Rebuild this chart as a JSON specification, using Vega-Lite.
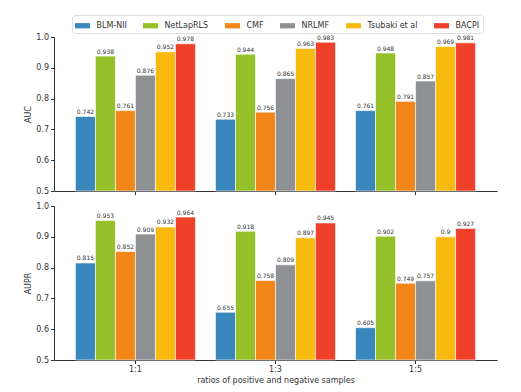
{
  "$schema": "https://vega.github.io/schema/vega-lite/v6.json",
  "padding": {"left": 24, "top": 14, "right": 5, "bottom": 5},
  "spacing": 7,
  "config": {
    "view": {"stroke": null},
    "font": "DejaVu Sans",
    "axis": {
      "domainColor": "#333333",
      "tickColor": "#333333",
      "labelColor": "#333333",
      "titleColor": "#333333",
      "labelFontSize": 8,
      "titleFontSize": 8,
      "titleFontWeight": "normal",
      "grid": false,
      "tickSize": 3.5,
      "labelPadding": 2,
      "titlePadding": 4
    },
    "legend": {
      "labelFontSize": 8,
      "labelColor": "#333333"
    }
  },
  "data": {
    "values": [
      {"metric": "AUC", "ratio": "1:1", "method": "BLM-NII", "value": 0.742},
      {"metric": "AUC", "ratio": "1:1", "method": "NetLapRLS", "value": 0.938},
      {"metric": "AUC", "ratio": "1:1", "method": "CMF", "value": 0.761},
      {"metric": "AUC", "ratio": "1:1", "method": "NRLMF", "value": 0.876},
      {"metric": "AUC", "ratio": "1:1", "method": "Tsubaki et al", "value": 0.952},
      {"metric": "AUC", "ratio": "1:1", "method": "BACPI", "value": 0.978},
      {"metric": "AUC", "ratio": "1:3", "method": "BLM-NII", "value": 0.733},
      {"metric": "AUC", "ratio": "1:3", "method": "NetLapRLS", "value": 0.944},
      {"metric": "AUC", "ratio": "1:3", "method": "CMF", "value": 0.756},
      {"metric": "AUC", "ratio": "1:3", "method": "NRLMF", "value": 0.865},
      {"metric": "AUC", "ratio": "1:3", "method": "Tsubaki et al", "value": 0.963},
      {"metric": "AUC", "ratio": "1:3", "method": "BACPI", "value": 0.983},
      {"metric": "AUC", "ratio": "1:5", "method": "BLM-NII", "value": 0.761},
      {"metric": "AUC", "ratio": "1:5", "method": "NetLapRLS", "value": 0.948},
      {"metric": "AUC", "ratio": "1:5", "method": "CMF", "value": 0.791},
      {"metric": "AUC", "ratio": "1:5", "method": "NRLMF", "value": 0.857},
      {"metric": "AUC", "ratio": "1:5", "method": "Tsubaki et al", "value": 0.969},
      {"metric": "AUC", "ratio": "1:5", "method": "BACPI", "value": 0.981},
      {"metric": "AUPR", "ratio": "1:1", "method": "BLM-NII", "value": 0.815},
      {"metric": "AUPR", "ratio": "1:1", "method": "NetLapRLS", "value": 0.953},
      {"metric": "AUPR", "ratio": "1:1", "method": "CMF", "value": 0.852},
      {"metric": "AUPR", "ratio": "1:1", "method": "NRLMF", "value": 0.909},
      {"metric": "AUPR", "ratio": "1:1", "method": "Tsubaki et al", "value": 0.932},
      {"metric": "AUPR", "ratio": "1:1", "method": "BACPI", "value": 0.964},
      {"metric": "AUPR", "ratio": "1:3", "method": "BLM-NII", "value": 0.655},
      {"metric": "AUPR", "ratio": "1:3", "method": "NetLapRLS", "value": 0.918},
      {"metric": "AUPR", "ratio": "1:3", "method": "CMF", "value": 0.758},
      {"metric": "AUPR", "ratio": "1:3", "method": "NRLMF", "value": 0.809},
      {"metric": "AUPR", "ratio": "1:3", "method": "Tsubaki et al", "value": 0.897},
      {"metric": "AUPR", "ratio": "1:3", "method": "BACPI", "value": 0.945},
      {"metric": "AUPR", "ratio": "1:5", "method": "BLM-NII", "value": 0.605},
      {"metric": "AUPR", "ratio": "1:5", "method": "NetLapRLS", "value": 0.902},
      {"metric": "AUPR", "ratio": "1:5", "method": "CMF", "value": 0.749},
      {"metric": "AUPR", "ratio": "1:5", "method": "NRLMF", "value": 0.757},
      {"metric": "AUPR", "ratio": "1:5", "method": "Tsubaki et al", "value": 0.9},
      {"metric": "AUPR", "ratio": "1:5", "method": "BACPI", "value": 0.927}
    ]
  },
  "vconcat": [
    {
      "width": 443,
      "height": 154,
      "transform": [{"filter": "datum.metric == 'AUC'"}],
      "encoding": {
        "x": {"field": "ratio", "type": "nominal", "scale": {"paddingInner": 0.143, "paddingOuter": 0.153},
              "axis": {"labels": false, "title": null}},
        "xOffset": {"field": "method", "type": "nominal", "sort": ["BLM-NII", "NetLapRLS", "CMF", "NRLMF", "Tsubaki et al", "BACPI"]},
        "y": {"field": "value", "type": "quantitative", "scale": {"domain": [0.5, 1.0], "zero": false, "nice": false},
              "axis": {"title": "AUC", "values": [0.5, 0.6, 0.7, 0.8, 0.9, 1.0], "format": ".1f", "titleX": -22, "titleY": 77}}
      },
      "layer": [
        {
          "mark": {"type": "bar", "stroke": "white", "strokeWidth": 0.6},
          "encoding": {
            "y2": {"datum": 0.5},
            "color": {"field": "method", "type": "nominal",
              "sort": ["BLM-NII", "NetLapRLS", "CMF", "NRLMF", "Tsubaki et al", "BACPI"],
              "scale": {"domain": ["BLM-NII", "NetLapRLS", "CMF", "NRLMF", "Tsubaki et al", "BACPI"],
                        "range": ["#3a87be", "#95c02a", "#f28619", "#8e9093", "#f9ba10", "#ef4129"]},
              "legend": {"title": null, "orient": "none", "direction": "horizontal", "legendX": 18, "legendY": -22,
                         "symbolType": "M-1,-0.35L1,-0.35L1,0.35L-1,0.35Z", "symbolSize": 225, "symbolStrokeWidth": 0,
                         "labelOffset": 6.5, "columnPadding": 16, "strokeColor": "#dddddd", "cornerRadius": 3, "padding": 3, "fillColor": "white"}}
          }
        },
        {
          "mark": {"type": "text", "baseline": "bottom", "dy": -1.5, "fontSize": 6, "color": "#333333"},
          "encoding": {"text": {"field": "value", "type": "nominal"}}
        }
      ]
    },
    {
      "width": 443,
      "height": 154,
      "transform": [{"filter": "datum.metric == 'AUPR'"}],
      "encoding": {
        "x": {"field": "ratio", "type": "nominal", "scale": {"paddingInner": 0.143, "paddingOuter": 0.153},
              "axis": {"labelAngle": 0, "title": "ratios of positive and negative samples", "titlePadding": 3}},
        "xOffset": {"field": "method", "type": "nominal", "sort": ["BLM-NII", "NetLapRLS", "CMF", "NRLMF", "Tsubaki et al", "BACPI"]},
        "y": {"field": "value", "type": "quantitative", "scale": {"domain": [0.5, 1.0], "zero": false, "nice": false},
              "axis": {"title": "AUPR", "values": [0.5, 0.6, 0.7, 0.8, 0.9, 1.0], "format": ".1f", "titleX": -22, "titleY": 77}}
      },
      "layer": [
        {
          "mark": {"type": "bar", "stroke": "white", "strokeWidth": 0.6},
          "encoding": {
            "y2": {"datum": 0.5},
            "color": {"field": "method", "type": "nominal",
              "sort": ["BLM-NII", "NetLapRLS", "CMF", "NRLMF", "Tsubaki et al", "BACPI"],
              "scale": {"domain": ["BLM-NII", "NetLapRLS", "CMF", "NRLMF", "Tsubaki et al", "BACPI"],
                        "range": ["#3a87be", "#95c02a", "#f28619", "#8e9093", "#f9ba10", "#ef4129"]},
              "legend": null}
          }
        },
        {
          "mark": {"type": "text", "baseline": "bottom", "dy": -1.5, "fontSize": 6, "color": "#333333"},
          "encoding": {"text": {"field": "value", "type": "nominal"}}
        }
      ]
    }
  ]
}
